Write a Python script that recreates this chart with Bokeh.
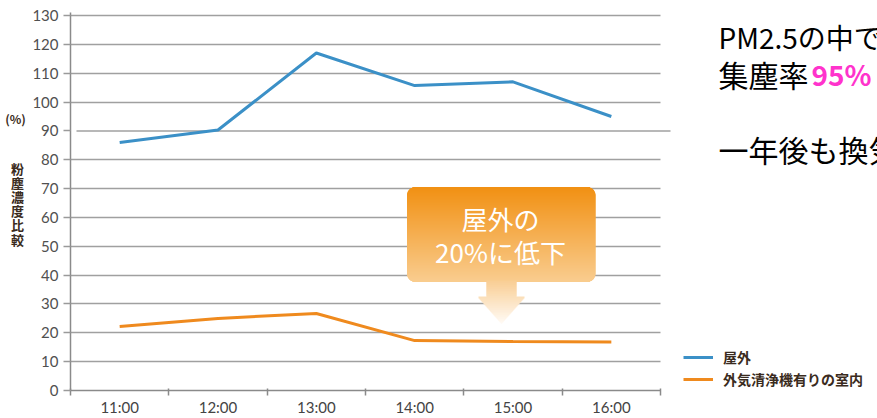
import numpy as np
from bokeh.plotting import figure
from bokeh.layouts import row
from bokeh.models import Range1d, FixedTicker, Label, Legend, LegendItem
from bokeh.core.properties import value
from bokeh.embed import file_html
from bokeh.resources import INLINE

# ---------------- data ----------------
times = ["11:00", "12:00", "13:00", "14:00", "15:00", "16:00"]
outdoor = [86.0, 90.3, 117.0, 105.7, 107.0, 95.0]          # 屋外
indoor = [22.2, 25.0, 26.7, 17.3, 17.0, 16.8]              # 外気清浄機有りの室内
y_ticks = list(range(0, 131, 10))
series_labels = ["屋外", "外気清浄機有りの室内"]
callout_lines = ["屋外の", "20%に低下"]
y_title_unit = "(%)"
y_title = "粉塵濃度比較"
side_line1 = "PM2.5の中で"
side_line2a = "集塵率"
side_line2b = "95%"
side_line3 = "一年後も換気"

# ---------------- layout constants (picture pixels) ----------------
TOTAL_W, H = 877, 418
LW = 28                      # width of the left title strip
W = TOTAL_W - LW             # main figure width
X0, X1 = 70, 660             # chart frame left / end of category axis
Y0, Y130 = 390, 15           # pixel rows of value 0 and value 130
FT = 12                      # frame top
NCAT = len(times)
FL = X0 - LW
PPX = (X1 - X0) / NCAT
PPY = (Y0 - Y130) / 130.0
XMAX = (TOTAL_W - X0) / PPX
YMAX = (Y0 - FT) / PPY

def dx(ix):
    return (ix - X0) / PPX

def dy(iy):
    return (Y0 - iy) / PPY

CJK = "Noto Sans CJK JP"
TITLE_COL = "#3a2b20"

# ---------------- left strip (axis title) ----------------
lf = figure(width=LW, height=H, output_backend="svg", toolbar_location=None,
            x_range=Range1d(0, LW), y_range=Range1d(0, H),
            min_border=0, x_axis_location=None, y_axis_location=None)
lf.outline_line_color = None
lf.xgrid.visible = False
lf.ygrid.visible = False
lf.add_layout(Label(x=15, y=H - 117, text=y_title_unit,
                    text_align="center", text_baseline="middle", text_font=CJK,
                    text_font_size="12px", text_font_style="bold",
                    text_color=TITLE_COL))
for i, ch in enumerate(y_title):
    lf.add_layout(Label(x=17, y=H - (172 + i * 15.7), text=ch,
                        text_align="center", text_baseline="middle", text_font=CJK,
                        text_font_size="13px", text_font_style="bold",
                        text_color=TITLE_COL))

# ---------------- main figure ----------------
p = figure(width=W, height=H, output_backend="svg", toolbar_location=None,
           x_range=Range1d(0, XMAX), y_range=Range1d(0, YMAX),
           min_border_left=FL, min_border_right=0,
           min_border_top=FT, min_border_bottom=H - Y0)
p.outline_line_color = None
p.background_fill_color = "white"
p.border_fill_color = "white"

centers = [i + 0.5 for i in range(NCAT)]

# x axis
p.xaxis.ticker = FixedTicker(ticks=centers, minor_ticks=list(range(0, NCAT + 1)))
p.xaxis.bounds = (0, NCAT)
p.xaxis.major_label_overrides = {c: t for c, t in zip(centers, times)}
p.xaxis.major_tick_line_color = None
p.xaxis.major_tick_out = 0
p.xaxis.major_tick_in = 0
p.xaxis.minor_tick_line_color = "#8a8a8a"
p.xaxis.minor_tick_line_width = 1.5
p.xaxis.minor_tick_out = 5
p.xaxis.minor_tick_in = 2
p.xaxis.axis_line_color = "#8a8a8a"
p.xaxis.axis_line_width = 1.5
p.xaxis.major_label_text_font = "Lato"
p.xaxis.major_label_text_font_size = "15px"
p.xaxis.major_label_text_color = "#444444"
p.xaxis.major_label_standoff = 2
p.xgrid.visible = False

# y axis
p.yaxis.ticker = FixedTicker(ticks=y_ticks)
p.yaxis.axis_line_color = "#8a8a8a"
p.yaxis.axis_line_width = 1.5
p.yaxis.major_tick_line_color = "#9a9a9a"
p.yaxis.major_tick_line_width = 1.5
p.yaxis.major_tick_out = 7
p.yaxis.major_tick_in = 0
p.yaxis.minor_tick_line_color = None
p.yaxis.major_label_text_font = "Lato"
p.yaxis.major_label_text_font_size = "15px"
p.yaxis.major_label_text_color = "#505050"
p.yaxis.major_label_standoff = 5
p.ygrid.ticker = FixedTicker(ticks=[t for t in y_ticks[1:] if t != 90])
p.ygrid.grid_line_color = "#a0a0a0"
p.ygrid.grid_line_width = 1.5

# mask the grid to the right of the chart area (side text region)
p.quad(left=[NCAT], right=[XMAX], bottom=[0], top=[YMAX],
       fill_color="white", line_color=None)
# the 90 gridline of the original is offset and longer
p.segment(x0=[dx(76)], x1=[dx(670)], y0=[90], y1=[90],
          line_color="#a0a0a0", line_width=1.5)

# ---------------- callout (gradient rounded box + arrow) ----------------
def lerp(c0, c1, t):
    return "#%02x%02x%02x" % tuple(int(round(a + (b - a) * t)) for a, b in zip(c0, c1))

BL, BR, BT, BB, RAD = 406.5, 595.0, 187.0, 281.0, 8.0
lefts, rights, tops, bottoms, cols = [], [], [], [], []
y = BT
while y < BB:
    y1 = min(y + 1.0, BB)
    mid = (y + y1) / 2
    dmin = min(mid - BT, BB - mid)
    inset = RAD - np.sqrt(max(RAD ** 2 - (RAD - dmin) ** 2, 0)) if dmin < RAD else 0.0
    lefts.append(dx(BL + inset)); rights.append(dx(BR - inset))
    tops.append(dy(y - 0.4)); bottoms.append(dy(y1 + 0.4))
    cols.append(lerp((241, 144, 18), (249, 204, 142), (mid - BT) / (BB - BT)))
    y = y1

AT, AH, ATIP = BB, 297.0, 323.0
ACX = 501.0
y = AT - 0.5
while y < ATIP:
    y1 = min(y + 1.0, ATIP)
    mid = (y + y1) / 2
    half = 15.0 if mid < AH else 23.0 * (ATIP - mid) / (ATIP - AH)
    lefts.append(dx(ACX - half)); rights.append(dx(ACX + half))
    tops.append(dy(y - 0.4)); bottoms.append(dy(y1 + 0.4))
    cols.append(lerp((249, 206, 148), (255, 250, 244), (mid - AT) / (ATIP - AT)))
    y = y1

p.quad(left=lefts, right=rights, top=tops, bottom=bottoms,
       fill_color=cols, line_color=None)

p.text(x=[dx(500), dx(500)], y=[dy(218), dy(251)], text=callout_lines,
       text_color="white", text_font_size="26px", text_align="center",
       text_baseline="middle", text_font=value(CJK))

# ---------------- series ----------------
r_out = p.line(centers, outdoor, line_color="#3b90c7", line_width=3)
r_in = p.line(centers, indoor, line_color="#ef8a1e", line_width=3)

legend = Legend(items=[LegendItem(label=series_labels[0], renderers=[r_out]),
                       LegendItem(label=series_labels[1], renderers=[r_in])],
                location=(683 - X0, 1), orientation="vertical",
                glyph_width=30, glyph_height=16, label_height=16,
                label_standoff=10, spacing=2, padding=0, margin=0,
                border_line_color=None, background_fill_alpha=0,
                label_text_font=CJK, label_text_font_size="14px",
                label_text_font_style="bold", label_text_color=TITLE_COL)
p.add_layout(legend)

# ---------------- side text (right) ----------------
p.add_layout(Label(x=dx(718), y=dy(36), text=side_line1, text_baseline="middle",
                   text_font=CJK, text_font_size="28px", text_color="#000000"))
p.add_layout(Label(x=dx(718), y=dy(73), text=side_line2a, text_baseline="middle",
                   text_font=CJK, text_font_size="30px", text_color="#000000"))
p.add_layout(Label(x=dx(811), y=dy(73), text=side_line2b, text_baseline="middle",
                   text_font=CJK, text_font_size="28px", text_font_style="bold",
                   text_color="#ff33cc"))
p.add_layout(Label(x=dx(718), y=dy(148), text=side_line3, text_baseline="middle",
                   text_font=CJK, text_font_size="30px", text_color="#000000"))

layout = row(lf, p, spacing=0)
open("out.html", "w").write(file_html(layout, INLINE))
